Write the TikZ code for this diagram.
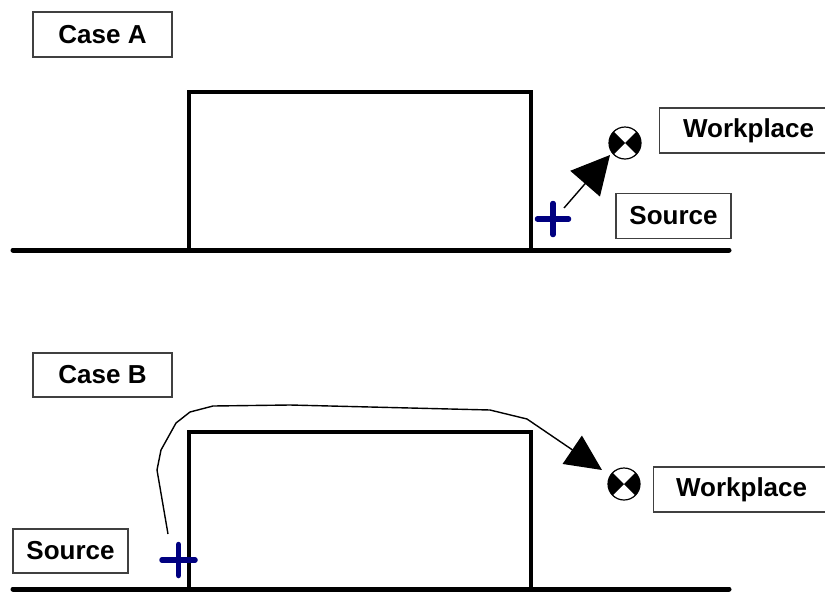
\documentclass[tikz,border=0pt]{standalone}
\usepackage{fontspec}
\setmainfont{Liberation Sans}
\usetikzlibrary{arrows.meta}
\definecolor{crossblue}{RGB}{0,0,128}
\definecolor{boxgray}{RGB}{64,64,64}
\tikzset{
  labelbox/.style={draw=boxgray, line width=1.2pt, rectangle, inner sep=0pt,
    minimum height=45pt, font=\fontsize{26}{30}\selectfont\bfseries},
  ground/.style={line width=5pt, line cap=round},
  building/.style={line width=3.5pt},
  target/.style={circle, draw, line width=1.2pt, minimum size=32pt, inner sep=0pt},
  crossmark/.style={draw=crossblue, line width=5.5pt, line cap=round},
  flow/.style={line width=1.4pt},
}
\newcommand{\targetfill}[1]{%
  \fill (#1.center) -- ++(135:16pt) arc[start angle=135,end angle=225,radius=16pt] -- cycle;
  \fill (#1.center) -- ++(-45:16pt) arc[start angle=-45,end angle=45,radius=16pt] -- cycle;}
\newcommand{\crossdraw}[3]{%
  \draw[crossmark] (#1.center) ++(-#2pt,0) -- ++(2*#2pt,0);
  \draw[crossmark] (#1.center) ++(0,-#3pt) -- ++(0,2*#3pt);}
\begin{document}
\begin{tikzpicture}[x=1pt,y=-1pt]
\useasboundingbox (0,0) rectangle (825,592);
\clip (0,0) rectangle (825,592);
\fill[white] (0,0) rectangle (825,592);

% ---------- Case A ----------
\node[labelbox, minimum width=139pt] (caseA) at (102.5,34.5) {Case A};
\draw[building] (189,250) -- (189,92) -- (531,92) -- (531,250);
\draw[ground] (13,250) -- (729,250);
\node[target] (tgtA) at (625,143) {};
\targetfill{tgtA}
\node[inner sep=0pt] (srcA) at (553,219) {};
\crossdraw{srcA}{15.5}{15.5}
\coordinate (aStart) at (564,208);
\coordinate (aTip) at (610,155);
\draw[flow, -{Triangle[length=38pt,width=39pt]}] (aStart) -- (aTip);
\node[labelbox, minimum width=178pt, anchor=west] (wpA) at (659,130.5) {Workplace};
\node[labelbox, minimum width=115pt] (sA) at (673.5,216) {Source};

% ---------- Case B ----------
\node[labelbox, minimum width=139pt, minimum height=44pt] (caseB) at (102.5,375) {Case B};
\draw[building] (189,589) -- (189,432) -- (531,432) -- (531,589);
\draw[ground] (13,589) -- (729,589);
\node[target] (tgtB) at (624,484) {};
\targetfill{tgtB}
\node[inner sep=0pt] (srcB) at (178.5,560) {};
\crossdraw{srcB}{16.5}{15.5}
\coordinate (bStart) at (168,534);
\coordinate (bTip) at (602,470);
\draw[flow, -{Triangle[length=36pt,width=34pt]}] (bStart) -- (157,470) -- (161,450) -- (176,423) -- (190,412)
  -- (213,406) -- (290,405) -- (490,410) -- (527,419) -- (bTip);
\node[labelbox, minimum width=176pt, anchor=west] (wpB) at (653,489.5) {Workplace};
\node[labelbox, minimum width=115pt, minimum height=44pt] (sB) at (70.5,551) {Source};
\end{tikzpicture}
\end{document}
